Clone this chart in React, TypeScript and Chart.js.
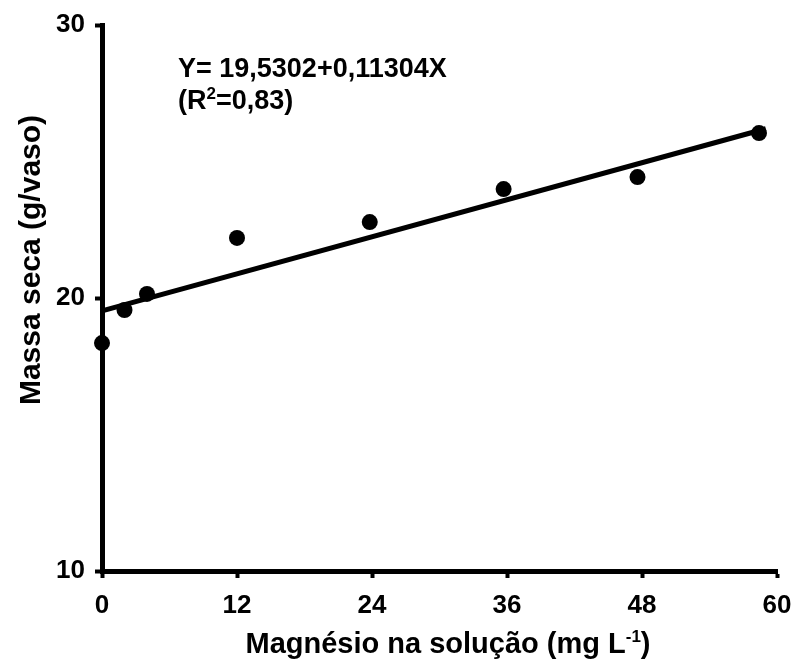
import React, { useEffect, useRef } from "react";
import { Chart, registerables } from "chart.js";

Chart.register(...registerables);

const doseX = [0, 2, 4, 12, 23.8, 35.7, 47.6, 58.4];
const massY = [18.35, 19.56, 20.15, 22.2, 22.78, 23.99, 24.43, 26.04];
const fitX = [0, 59];
const fitY = [19.53, 26.2];
const xTicks = [0, 12, 24, 36, 48, 60];
const yTicks = [10, 20, 30];
const equationText = "Y= 19,5302+0,11304X";
const xTitle = "Magnésio na solução (mg L";
const yTitle = "Massa seca (g/vaso)";

const FONT = "'Liberation Sans', Arial, Helvetica, sans-serif";

const textPlugin = {
  id: "customText",
  afterDraw(chart: any) {
    const ctx = chart.ctx;
    ctx.save();
    ctx.fillStyle = "#000";
    ctx.textBaseline = "alphabetic";
    ctx.textAlign = "left";
    // equation
    ctx.font = `bold 27px ${FONT}`;
    ctx.fillText(equationText, 178, 77);
    // R² line
    let x = 178;
    const base2 = 109;
    ctx.fillText("(R", x, base2);
    x += ctx.measureText("(R").width;
    ctx.font = `bold 17px ${FONT}`;
    ctx.fillText("2", x, base2 - 10);
    x += ctx.measureText("2").width;
    ctx.font = `bold 27px ${FONT}`;
    ctx.fillText("=0,83)", x, base2);

    // x title with superscript
    const cx = 448;
    ctx.font = `bold 29px ${FONT}`;
    const w1 = ctx.measureText(xTitle).width;
    ctx.font = `bold 17px ${FONT}`;
    const w2 = ctx.measureText("-1").width;
    ctx.font = `bold 29px ${FONT}`;
    const w3 = ctx.measureText(")").width;
    let sx = cx - (w1 + w2 + w3) / 2;
    const xb = 653;
    ctx.fillText(xTitle, sx, xb);
    sx += w1;
    ctx.font = `bold 17px ${FONT}`;
    ctx.fillText("-1", sx, xb - 11);
    sx += w2;
    ctx.font = `bold 29px ${FONT}`;
    ctx.fillText(")", sx, xb);

    // y title rotated
    ctx.translate(40, 260);
    ctx.rotate(-Math.PI / 2);
    ctx.textAlign = "center";
    ctx.textBaseline = "alphabetic";
    ctx.font = `bold 30px ${FONT}`;
    ctx.fillText(yTitle, 0, 0);
    ctx.restore();
  },
};

export default function App() {
  const ref = useRef<HTMLCanvasElement>(null);
  useEffect(() => {
    if (!ref.current) return;
    const chart = new Chart(ref.current, {
      type: "scatter",
      data: {
        datasets: [
          {
            type: "line",
            data: fitX.map((v, i) => ({ x: v, y: fitY[i] })),
            borderColor: "#000",
            borderWidth: 5,
            pointRadius: 0,
            fill: false,
            clip: false as any,
          } as any,
          {
            type: "scatter",
            data: doseX.map((v, i) => ({ x: v, y: massY[i] })),
            backgroundColor: "#000",
            borderColor: "#000",
            pointRadius: 8,
            borderWidth: 0,
            clip: false as any,
          } as any,
        ],
      },
      options: {
        responsive: false,
        animation: false,
        layout: { padding: { left: 0, top: 25, right: 20, bottom: 0 } },
        plugins: {
          legend: { display: false },
          tooltip: { enabled: false },
          title: { display: false },
        },
        scales: {
          x: {
            type: "linear",
            min: 0,
            max: 60,
            afterBuildTicks: (s: any) => {
              s.ticks = xTicks.map((v) => ({ value: v }));
            },
            afterFit: (s: any) => {
              s.height = 90;
              s.paddingLeft = 0;
              s.paddingRight = 0;
            },
            ticks: {
              color: "#000",
              font: { family: FONT, size: 26, weight: "bold" },
              padding: 12,
              maxRotation: 0,
            },
            grid: {
              drawOnChartArea: false,
              drawTicks: true,
              tickLength: 7,
              tickWidth: 4,
              tickColor: "#000",
            },
            border: { display: true, color: "#000", width: 5 },
          },
          y: {
            type: "linear",
            min: 10,
            max: 30,
            afterBuildTicks: (s: any) => {
              s.ticks = yTicks.map((v) => ({ value: v }));
            },
            afterFit: (s: any) => {
              s.width = 102;
              s.paddingTop = 0;
              s.paddingBottom = 0;
            },
            ticks: {
              color: "#000",
              font: { family: FONT, size: 26, weight: "bold" },
              padding: 10,
            },
            grid: {
              drawOnChartArea: false,
              drawTicks: true,
              tickLength: 7,
              tickWidth: 4,
              tickColor: "#000",
            },
            border: { display: true, color: "#000", width: 5 },
          },
        },
      },
      plugins: [textPlugin],
    });
    return () => chart.destroy();
  }, []);
  return (
    <div style={{ position: "fixed", left: 0, top: 0, width: 797, height: 661, background: "#fff" }}>
      <canvas ref={ref} width={797} height={661} />
    </div>
  );
}
